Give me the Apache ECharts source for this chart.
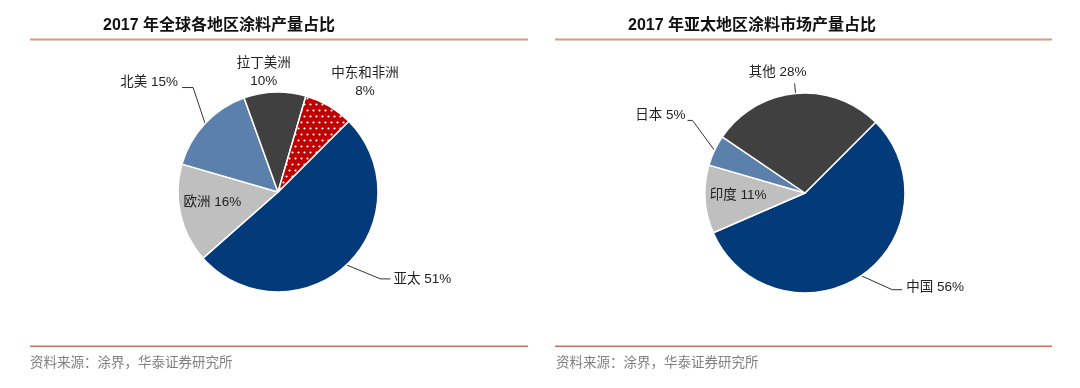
<!DOCTYPE html>
<html><head><meta charset="utf-8">
<script src="https://cdn.jsdelivr.net/npm/echarts@6/dist/echarts.min.js"></script>
<style>html,body{margin:0;padding:0;background:#fff}#c{width:1080px;height:388px}</style>
</head><body><div id="c"></div>
<script>
// ---- data ----
const leftTitle = '2017 年全球各地区涂料产量占比';
const rightTitle = '2017 年亚太地区涂料市场产量占比';
const sourceText = '资料来源：涂界，华泰证券研究所';
const globalRegions = ['亚太', '欧洲', '北美', '拉丁美洲', '中东和非洲'];
const globalShares = [51, 16, 15, 10, 8];
const apacRegions = ['中国', '印度', '日本', '其他'];
const apacShares = [56, 11, 5, 28];

// ---- styles ----
const FONT = "'Liberation Sans','Noto Sans CJK SC',sans-serif";
function dotPattern() {
  const c = document.createElement('canvas');
  c.width = 6; c.height = 12;
  const g = c.getContext('2d');
  g.fillStyle = '#C00000'; g.fillRect(0, 0, 6, 12);
  g.fillStyle = '#ffffff';
  g.beginPath(); g.arc(1.5, 2.5, 1.1, 0, Math.PI * 2); g.fill();
  g.beginPath(); g.arc(4.5, 8.5, 1.1, 0, Math.PI * 2); g.fill();
  return c;
}
const globalColors = {
  '亚太': '#023A7A', '欧洲': '#BFBFBF', '北美': '#5B80AC', '拉丁美洲': '#404040',
  '中东和非洲': { image: dotPattern(), repeat: 'repeat' }
};
const apacColors = { '中国': '#023A7A', '印度': '#BFBFBF', '日本': '#5B80AC', '其他': '#404040' };

const globalLabelStyle = {
  '亚太': { type: 'line', bend: [34, 14], end: [44, 14], text: [47, 14], align: 'left', va: 'middle' },
  '欧洲': { type: 'inside', d: [-14, -1] },
  '北美': { type: 'line', bend: [-12, -36], end: [-23, -36], text: [-27, -41], align: 'right', va: 'middle' },
  '拉丁美洲': { type: 'free', text: [-11, -2], align: 'center', va: 'bottom', two: true },
  '中东和非洲': { type: 'free', text: [36, -6], align: 'center', va: 'bottom', two: true }
};
const apacLabelStyle = {
  '中国': { type: 'line', bend: [31, 14], end: [41, 14], text: [45, 12], align: 'left', va: 'middle' },
  '印度': { type: 'inside', d: [-14, -1] },
  '日本': { type: 'line', bend: [-22, -30], end: [-27, -30], text: [-29, -35], align: 'right', va: 'middle' },
  '其他': { type: 'line', bend: [-1, -10], end: [-1, -10], text: [-18, -12], align: 'center', va: 'bottom' }
};

function buildData(names, values, colors, styles) {
  return names.map((n, i) => {
    const s = styles[n];
    return {
      name: n, value: values[i],
      itemStyle: { color: colors[n] },
      label: {
        position: s.type === 'inside' ? 'inside' : 'outside',
        formatter: s.two ? '{b}\n{c}%' : '{b} {c}%'
      }
    };
  });
}

function makeLayout(names, styles) {
  return function (p) {
    const s = styles[names[p.dataIndex]];
    if (s.type === 'inside') {
      const r = p.labelRect;
      return { x: r.x + r.width / 2 + s.d[0], y: r.y + r.height / 2 + s.d[1], align: 'center', verticalAlign: 'middle' };
    }
    const A = p.labelLinePoints ? p.labelLinePoints[0] : [p.labelRect.x, p.labelRect.y];
    const out = {
      x: A[0] + s.text[0], y: A[1] + s.text[1], align: s.align, verticalAlign: s.va
    };
    if (s.type === 'line') {
      out.labelLinePoints = [A, [A[0] + s.bend[0], A[1] + s.bend[1]], [A[0] + s.end[0], A[1] + s.end[1]]];
    } else {
      out.labelLinePoints = [A, A, A];
    }
    return out;
  };
}

function pieSeries(center, names, values, colors, styles) {
  return {
    type: 'pie', center: center, radius: 100, startAngle: 45, clockwise: true,
    avoidLabelOverlap: false, silent: true, animation: false,
    itemStyle: { borderColor: '#ffffff', borderWidth: 1.5 },
    label: { show: true, color: '#222', fontSize: 13.5, lineHeight: 18, fontFamily: FONT },
    labelLine: { show: true, length: 10, length2: 10, lineStyle: { color: '#333', width: 1 } },
    emphasis: { disabled: true },
    labelLayout: makeLayout(names, styles),
    data: buildData(names, values, colors, styles)
  };
}

const chart = echarts.init(document.getElementById('c'), null, { renderer: 'canvas' });
chart.setOption({
  backgroundColor: '#ffffff',
  animation: false,
  graphic: [
    { type: 'text', left: 103, top: 18, style: { text: leftTitle, font: "bold 16px " + FONT, fill: '#111' } },
    { type: 'text', left: 628, top: 18, style: { text: rightTitle, font: "bold 16px " + FONT, fill: '#111' } },
    { type: 'rect', shape: { x: 30, y: 38.5, width: 498, height: 2 }, style: { fill: '#D39C8B' } },
    { type: 'rect', shape: { x: 555, y: 38.5, width: 497, height: 2 }, style: { fill: '#D39C8B' } },
    { type: 'rect', shape: { x: 30, y: 345.5, width: 498, height: 1.5 }, style: { fill: '#D2705F' } },
    { type: 'rect', shape: { x: 555, y: 345.5, width: 497, height: 1.5 }, style: { fill: '#D2705F' } },
    { type: 'text', left: 30, top: 357, style: { text: sourceText, font: "13.5px " + FONT, fill: '#808080' } },
    { type: 'text', left: 556, top: 357, style: { text: sourceText, font: "13.5px " + FONT, fill: '#808080' } }
  ],
  series: [
    pieSeries([278, 192], globalRegions, globalShares, globalColors, globalLabelStyle),
    pieSeries([805, 193], apacRegions, apacShares, apacColors, apacLabelStyle)
  ]
});
</script></body></html>
